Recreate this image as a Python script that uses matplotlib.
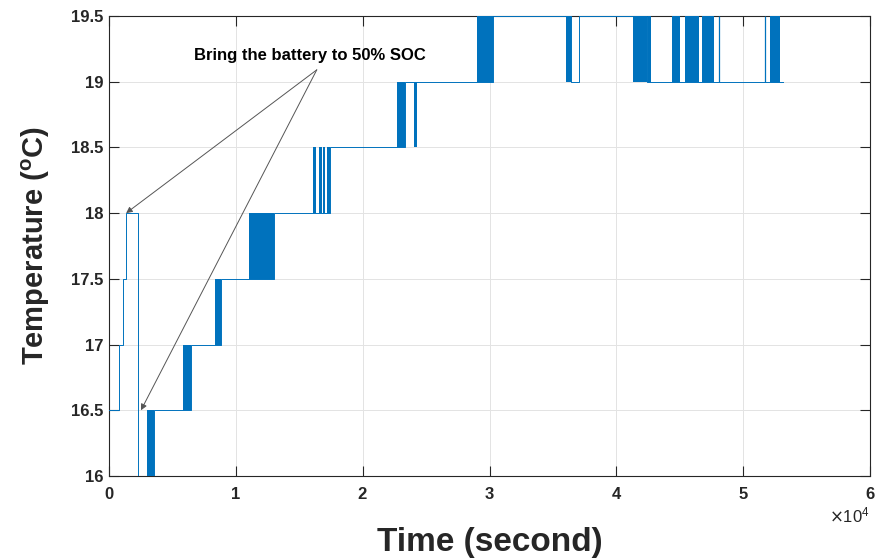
import matplotlib
matplotlib.use("Agg")
import matplotlib.pyplot as plt
from matplotlib.ticker import MultipleLocator, ScalarFormatter

plt.rcParams["font.family"] = ["Liberation Sans Narrow", "Liberation Sans", "DejaVu Sans"]

# temperature level changes of the cell (time in s, temperature in degC)
step_times = [0, 800, 1100, 1350, 2300, 3520, 6440, 8810, 12990, 17400,
              23340, 30300, 36420, 37030, 42380, 53120]
step_temps = [16.5, 17, 17.5, 18, 16, 16.5, 17, 17.5, 18, 18.5,
              19, 19.5, 19, 19.5, 19, 19]

# intervals where the sensor toggles quickly between two adjacent levels
chatter_start = [3000, 5830, 8360, 11060, 16110, 16560, 16900, 17190, 22730, 24070,
                 28990, 36030, 41340, 42500, 44360, 45410, 46780, 52110]
chatter_end = [3520, 6440, 8810, 12990, 16320, 16770, 17050, 17400, 23340, 24280,
               30300, 36420, 42380, 42710, 45020, 46520, 47720, 52900]
chatter_low = [16, 16.5, 17, 17.5, 18, 18, 18, 18, 18.5, 18.5,
               19, 19, 19, 19, 19, 19, 19, 19]

# single short spikes 19 -> 19.5
spike_times = [48120, 51720]

# arrows from the note to the two 50% SOC points
note_xy = (16380, 19.09)
arrow_heads = [(1350, 18.0), (2520, 16.5)]

blue = "#0072BD"

fig = plt.figure(figsize=(8.75, 5.58), dpi=100)
ax = fig.add_axes([0.1246, 0.147, 0.8697, 0.8244])

ax.step(step_times, step_temps, where="post", color=blue, lw=0.7, zorder=3)

widths = [e - s for s, e in zip(chatter_start, chatter_end)]
ax.bar(chatter_start, [0.5] * len(widths), width=widths, bottom=chatter_low,
       align="edge", color=blue, linewidth=0, zorder=3)
ax.vlines(spike_times, 19, 19.5, color=blue, lw=0.9, zorder=3)

ax.text(15850, 19.2, "Bring the battery to 50% SOC", ha="center", va="center",
        fontsize=12, fontweight="bold", color="black")
for head in arrow_heads:
    ax.annotate("", xy=head, xytext=note_xy,
                arrowprops=dict(arrowstyle="-|>", color="#555555", lw=0.7,
                                mutation_scale=9, shrinkA=0, shrinkB=0))

ax.set_xlim(0, 60000)
ax.set_ylim(16, 19.5)
ax.xaxis.set_major_locator(MultipleLocator(10000))
ax.yaxis.set_major_locator(MultipleLocator(0.5))

fmt = ScalarFormatter(useMathText=True)
fmt.set_powerlimits((4, 4))
ax.xaxis.set_major_formatter(fmt)
ax.yaxis.set_major_formatter(plt.FuncFormatter(lambda v, p: f"{v:g}"))

ax.grid(True, color="#e3e3e3", lw=0.7)
ax.set_axisbelow(True)
ax.tick_params(direction="in", length=7, width=0.8, top=True, right=True,
               labelsize=12, colors="#262626")
ax.tick_params(axis="x", pad=7)
ax.tick_params(axis="y", pad=4)
for lab in ax.get_xticklabels() + ax.get_yticklabels():
    lab.set_fontweight("bold")
ax.xaxis.get_offset_text().set_fontsize(12)
ax.xaxis.get_offset_text().set_family(["Liberation Sans", "DejaVu Sans"])
for sp in ax.spines.values():
    sp.set_color("#262626")
    sp.set_linewidth(0.8)

ax.set_xlabel("Time (second)", fontsize=24, fontweight="bold", color="#262626", labelpad=18)
ax.set_ylabel(r"Temperature ($^\mathregular{o}$C)", fontsize=21, fontweight="bold",
              family=["Liberation Sans", "DejaVu Sans"], color="#262626", labelpad=14)

fig.savefig("out.png", dpi=100)
